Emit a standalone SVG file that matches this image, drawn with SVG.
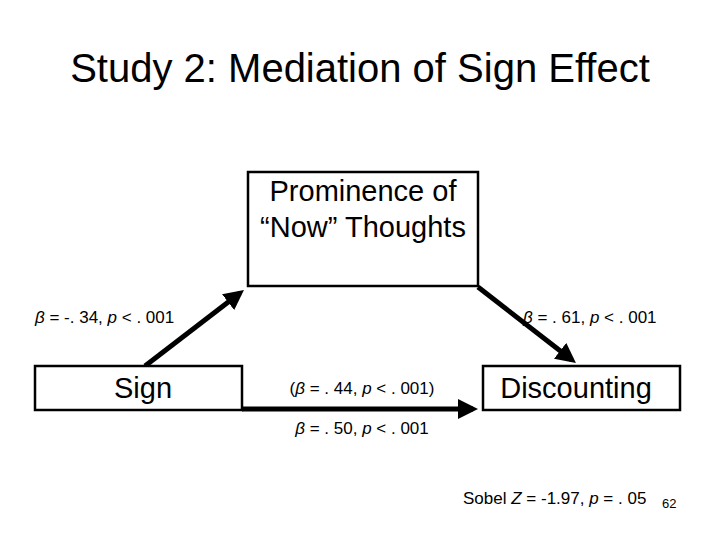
<svg xmlns="http://www.w3.org/2000/svg" width="720" height="540" viewBox="0 0 720 540">
<style>
text{font-family:"Liberation Sans",Arial,sans-serif;fill:#000}
.box{fill:#fff;stroke:#000;stroke-width:2.5}
.lab{font-size:17px}
.node{font-size:29px;text-anchor:middle}
.conn line{stroke:#000;stroke-width:5}
</style>
<defs><marker id="ah" markerWidth="4" markerHeight="4" refX="3" refY="2" orient="auto"><path d="M0,0L4,2L0,4z" fill="#000"/></marker></defs>
<rect width="720" height="540" fill="#fff"/>
<text x="360" y="82" font-size="40" text-anchor="middle">Study 2: Mediation of Sign Effect</text>
<g class="conn">
<line x1="145" y1="366" x2="240" y2="293" marker-end="url(#ah)"/>
<line x1="478" y1="287" x2="572" y2="360" marker-end="url(#ah)"/>
<line x1="242" y1="409" x2="473" y2="409" marker-end="url(#ah)"/>
</g>
<g id="mediator"><rect class="box" x="248" y="172" width="230" height="114"/>
<text class="node" x="363" y="201">Prominence of</text><text class="node" x="363" y="237">“Now” Thoughts</text></g>
<g id="sign"><rect class="box" x="35" y="366" width="207" height="44"/><text class="node" x="143" y="398">Sign</text></g>
<g id="discounting"><rect class="box" x="483" y="366" width="197" height="44"/><text class="node" x="576" y="398">Discounting</text></g>
<g class="lab">
<text x="35" y="323"><tspan font-style="italic">β</tspan> = -. 34, <tspan font-style="italic">p</tspan> &lt; . 001</text>
<text x="523" y="323"><tspan font-style="italic">β</tspan> = . 61, <tspan font-style="italic">p</tspan> &lt; . 001</text>
<text x="362" y="394" text-anchor="middle">(<tspan font-style="italic">β</tspan> = . 44, <tspan font-style="italic">p</tspan> &lt; . 001)</text>
<text x="362" y="434" text-anchor="middle"><tspan font-style="italic">β</tspan> = . 50, <tspan font-style="italic">p</tspan> &lt; . 001</text>
<text x="463" y="504">Sobel <tspan font-style="italic">Z</tspan> = -1.97, <tspan font-style="italic">p</tspan> = . 05</text>
</g>
<text x="662" y="508" font-size="13">62</text>
</svg>
